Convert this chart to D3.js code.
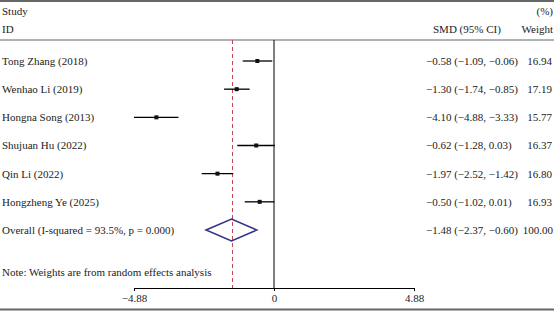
<!DOCTYPE html>
<html>
<head>
<meta charset="utf-8">
<script src="https://cdn.jsdelivr.net/npm/d3@7"></script>
<style>
  body { margin: 0; background: #fff; }
  text { font-family: "Liberation Serif", "DejaVu Serif", serif; font-size: 11px; fill: #222; }
</style>
</head>
<body>
<div id="chart"></div>
<script>
// studies and their estimates
const studies = ["Tong Zhang (2018)", "Wenhao Li (2019)", "Hongna Song (2013)", "Shujuan Hu (2022)", "Qin Li (2022)", "Hongzheng Ye (2025)"];
const smd = [-0.58, -1.30, -4.10, -0.62, -1.97, -0.50];
const lower = [-1.09, -1.74, -4.88, -1.28, -2.52, -1.02];
const upper = [-0.06, -0.85, -3.33, 0.03, -1.42, 0.01];
const weights = [16.94, 17.19, 15.77, 16.37, 16.80, 16.93];

// pooled result
const overallLabel = "Overall (I-squared = 93.5%, p = 0.000)";
const overall = [-1.48, -2.37, -0.60];
const overallWeight = 100.00;
const tickValues = [-4.88, 0, 4.88];

const width = 554;
const height = 311;

const svg = d3.select("#chart")
    .append("svg")
    .attr("width", width)
    .attr("height", height);

const x = d3.scaleLinear()
    .domain([-4.88, 4.88])
    .range([134, 414]);

// row positions (index 0..6, last one = overall)
const y = d3.scaleLinear()
    .domain([0, studies.length])
    .range([61, 230]);

const f2 = d3.format(".2f");
const axisY = 288;
const weightRight = 553;

// horizontal rules
svg.append("line").attr("x1", 0).attr("x2", width).attr("y1", 1).attr("y2", 1)
    .attr("stroke", "#666").attr("stroke-width", 2);
svg.append("line").attr("x1", 0).attr("x2", width).attr("y1", 40).attr("y2", 40)
    .attr("stroke", "#666").attr("stroke-width", 1.2);
svg.append("line").attr("x1", 0).attr("x2", width).attr("y1", 309.5).attr("y2", 309.5)
    .attr("stroke", "#666").attr("stroke-width", 2);

// headers
svg.append("text").attr("x", 2).attr("y", 11).attr("dy", "0.35em").text("Study");
svg.append("text").attr("x", 2).attr("y", 29).attr("dy", "0.35em").text("ID");
svg.append("text").attr("x", weightRight).attr("y", 11).attr("dy", "0.35em")
    .attr("text-anchor", "end").text("(%)");
svg.append("text").attr("x", 433).attr("y", 29).attr("dy", "0.35em").text("SMD (95% CI)");
svg.append("text").attr("x", weightRight).attr("y", 29).attr("dy", "0.35em")
    .attr("text-anchor", "end").text("Weight");

// null line at 0
svg.append("line")
    .attr("x1", x(0)).attr("x2", x(0))
    .attr("y1", 40).attr("y2", axisY)
    .attr("stroke", "#000").attr("stroke-width", 1);

// overall effect dashed line
svg.append("line")
    .attr("x1", Math.round(x(overall[0])) + 0.5).attr("x2", Math.round(x(overall[0])) + 0.5)
    .attr("y1", 40).attr("y2", axisY)
    .attr("stroke", "#c2485a").attr("stroke-width", 1)
    .attr("stroke-dasharray", "4,3");

// x axis
const xAxis = svg.append("g")
    .attr("transform", "translate(0," + axisY + ")")
    .call(d3.axisBottom(x).tickValues(tickValues).tickFormat(f2).tickSize(3).tickPadding(3));
xAxis.selectAll("text").attr("font-family", "Liberation Serif, serif").attr("font-size", 11).attr("fill", "#222");
xAxis.selectAll("path, line").attr("stroke", "#000");
xAxis.selectAll(".tick").filter(d => d === 0).select("text").text("0");

// study rows
const rows = svg.selectAll(".row")
    .data(studies)
    .enter().append("g")
    .attr("class", "row");

rows.append("text")
    .attr("x", 2).attr("y", (d, i) => y(i)).attr("dy", "0.35em")
    .text(d => d);

rows.append("line")
    .attr("x1", (d, i) => x(lower[i]))
    .attr("x2", (d, i) => x(upper[i]))
    .attr("y1", (d, i) => y(i)).attr("y2", (d, i) => y(i))
    .attr("stroke", "#000").attr("stroke-width", 1.3);

rows.append("rect")
    .attr("x", (d, i) => x(smd[i]) - 2)
    .attr("y", (d, i) => y(i) - 2)
    .attr("width", 4).attr("height", 4)
    .attr("fill", "#111");

rows.append("text")
    .attr("x", 426).attr("y", (d, i) => y(i)).attr("dy", "0.35em")
    .text((d, i) => f2(smd[i]) + " (" + f2(lower[i]) + ", " + f2(upper[i]) + ")");

rows.append("text")
    .attr("x", weightRight - 1).attr("y", (d, i) => y(i)).attr("dy", "0.35em")
    .attr("text-anchor", "end")
    .text((d, i) => f2(weights[i]));

// overall row
const oy = y(studies.length);
svg.append("text").attr("x", 2).attr("y", oy).attr("dy", "0.35em").text(overallLabel);
svg.append("path")
    .attr("d", "M" + x(overall[1]) + "," + oy +
        "L" + x(overall[0]) + "," + (oy - 11) +
        "L" + x(overall[2]) + "," + oy +
        "L" + x(overall[0]) + "," + (oy + 11) + "Z")
    .attr("fill", "none")
    .attr("stroke", "#2e3382")
    .attr("stroke-width", 1.5);
svg.append("text").attr("x", 426).attr("y", oy).attr("dy", "0.35em")
    .text(f2(overall[0]) + " (" + f2(overall[1]) + ", " + f2(overall[2]) + ")");
svg.append("text").attr("x", weightRight).attr("y", oy).attr("dy", "0.35em")
    .attr("text-anchor", "end").text(f2(overallWeight));

// footnote
svg.append("text").attr("x", 2).attr("y", 272).attr("dy", "0.35em")
    .text("Note: Weights are from random effects analysis");
</script>
</body>
</html>
